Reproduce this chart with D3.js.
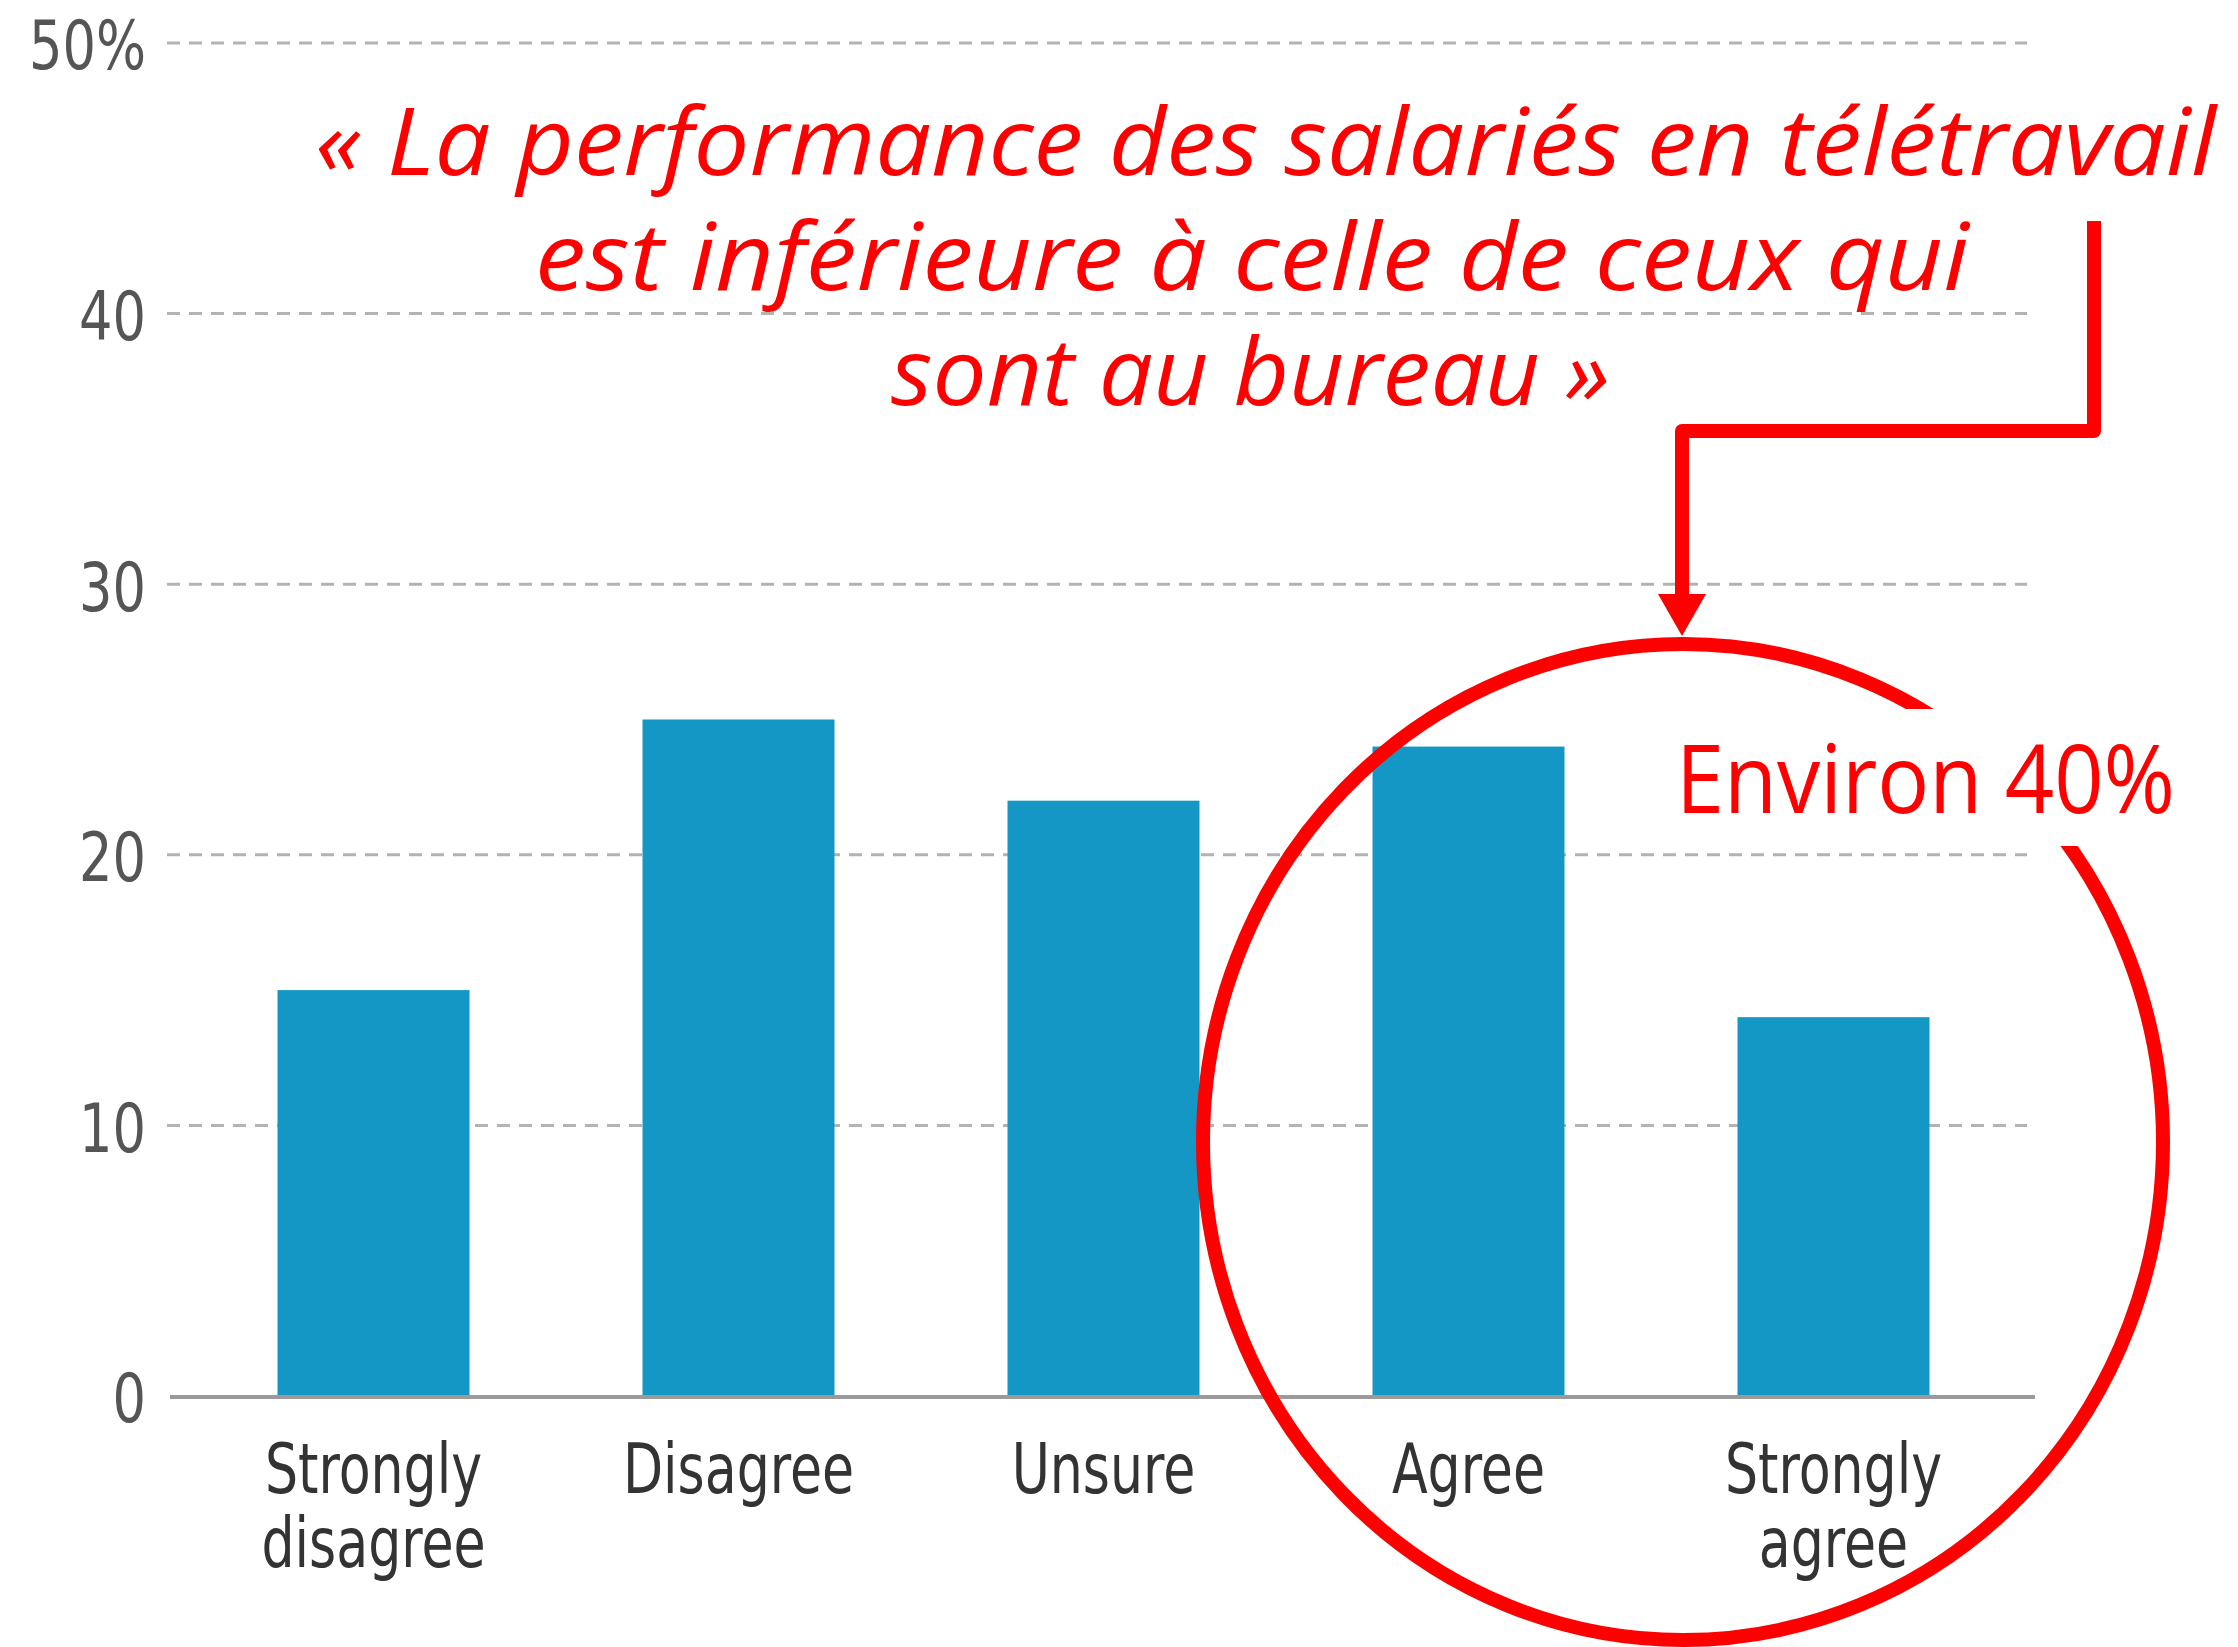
<!DOCTYPE html>
<html>
<head>
<meta charset="utf-8">
<script src="https://cdn.jsdelivr.net/npm/d3@7"></script>
<style>
  body { margin: 0; background: #fff; }
</style>
</head>
<body>
<div id="chart"></div>
<script>
// data
var categories = ["Strongly disagree", "Disagree", "Unsure", "Agree", "Strongly agree"];
var values = [15, 25, 22, 24, 14];
var yTicks = [0, 10, 20, 30, 40, 50];
var quoteLines = [
  "« La performance des salariés en télétravail",
  "est inférieure à celle de ceux qui",
  "sont au bureau »"
];
var calloutText = "Environ 40%";

var W = 2238, H = 1647;

var svg = d3.select("#chart")
  .append("svg")
    .attr("width", W)
    .attr("height", H)
    .style("display", "block");

// scales
var x = d3.scaleBand()
  .domain(categories)
  .range([191, 2016])
  .paddingInner(0.474)
  .paddingOuter(0.237);

var y = d3.scaleLinear()
  .domain([0, 50])
  .range([1396, 43]);

var tickFont = "'Liberation Sans Narrow', 'DejaVu Sans Condensed', 'Roboto', sans-serif";

// squeeze a text node horizontally, the original uses a condensed face
function condense(sel, k) {
  sel.each(function() {
    var len = this.getComputedTextLength();
    d3.select(this)
      .attr("textLength", len * k)
      .attr("lengthAdjust", "spacingAndGlyphs");
  });
}

// dashed gridlines
svg.append("g")
  .selectAll("line")
  .data(yTicks.filter(function(d) { return d > 0; }))
  .enter()
  .append("line")
    .attr("x1", 167)
    .attr("x2", 2027)
    .attr("y1", function(d) { return y(d); })
    .attr("y2", function(d) { return y(d); })
    .style("stroke", "#b3b3b3")
    .style("stroke-width", 3)
    .style("stroke-dasharray", "13 9");

// y axis labels
var yAxis = svg.append("g")
  .attr("transform", "translate(146,0)")
  .call(d3.axisLeft(y)
    .tickValues(yTicks)
    .tickSize(0)
    .tickPadding(0)
    .tickFormat(function(d) { return d === 50 ? d + "%" : d; }));
yAxis.select(".domain").remove();
yAxis.selectAll("text")
  .attr("dy", "0.38em")
  .style("font-family", tickFont)
  .style("font-size", "68px")
  .style("fill", "#555");
condense(yAxis.selectAll("text"), 0.86);

// bars
svg.append("g")
  .selectAll("rect")
  .data(values)
  .enter()
  .append("rect")
    .attr("x", function(d, i) { return x(categories[i]); })
    .attr("y", function(d) { return y(d); })
    .attr("width", x.bandwidth())
    .attr("height", function(d) { return y(0) - y(d); })
    .style("fill", "#1597c5");

// baseline
svg.append("line")
  .attr("x1", 170)
  .attr("x2", 2035)
  .attr("y1", y(0) + 1)
  .attr("y2", y(0) + 1)
  .style("stroke", "#9a9a9a")
  .style("stroke-width", 4);

// category labels, split on two lines for "Strongly ..."
var xLab = svg.append("g")
  .selectAll("text")
  .data(categories)
  .enter()
  .append("text")
    .attr("text-anchor", "middle")
    .style("font-family", tickFont)
    .style("font-size", "69px")
    .style("fill", "#333");

xLab.each(function(d) {
  var parts = d.indexOf("Strongly") === 0 ? ["Strongly", d.slice(9)] : [d];
  var cx = x(d) + x.bandwidth() / 2;
  d3.select(this).selectAll("tspan")
    .data(parts)
    .enter()
    .append("tspan")
      .attr("x", cx)
      .attr("y", function(p, j) { return 1493 + j * 74; })
      .text(function(p) { return p; });
});
condense(xLab.selectAll("tspan"), 0.84);

// red ellipse around the agree side
var red = "#ff0000";
svg.append("ellipse")
  .attr("cx", 1683)
  .attr("cy", 1142)
  .attr("rx", 480)
  .attr("ry", 498)
  .style("fill", "none")
  .style("stroke", red)
  .style("stroke-width", 14);

// white box behind the callout
svg.append("rect")
  .attr("x", 1600)
  .attr("y", 709)
  .attr("width", 600)
  .attr("height", 137)
  .style("fill", "#fff");

svg.append("text")
  .attr("x", 1676)
  .attr("y", 813)
  .attr("textLength", 499)
  .attr("lengthAdjust", "spacingAndGlyphs")
  .style("font-family", "'Open Sans', 'Noto Sans', sans-serif")
  .style("font-size", "96px")
  .style("fill", red)
  .text(calloutText);

// quote
var quoteX = [[315, 2216], [535, 1969], [891, 1610]];
svg.append("g")
  .selectAll("text")
  .data(quoteLines)
  .enter()
  .append("text")
    .attr("x", function(d, i) { return quoteX[i][0]; })
    .attr("y", function(d, i) { return 175 + i * 115; })
    .attr("textLength", function(d, i) { return quoteX[i][1] - quoteX[i][0]; })
    .attr("lengthAdjust", "spacingAndGlyphs")
    .style("font-family", "'Open Sans', 'Noto Sans', sans-serif")
    .style("font-style", "italic")
    .style("font-size", "94px")
    .style("fill", red)
    .text(function(d) { return d; });

// elbow arrow from the quote down to the ellipse
svg.append("path")
  .attr("d", "M2094,221 L2094,431 L1682,431 L1682,600")
  .style("fill", "none")
  .style("stroke", red)
  .style("stroke-width", 14)
  .style("stroke-linejoin", "round");

svg.append("path")
  .attr("d", "M1658,594 L1706,594 L1682,636 Z")
  .style("fill", red);
</script>
</body>
</html>
